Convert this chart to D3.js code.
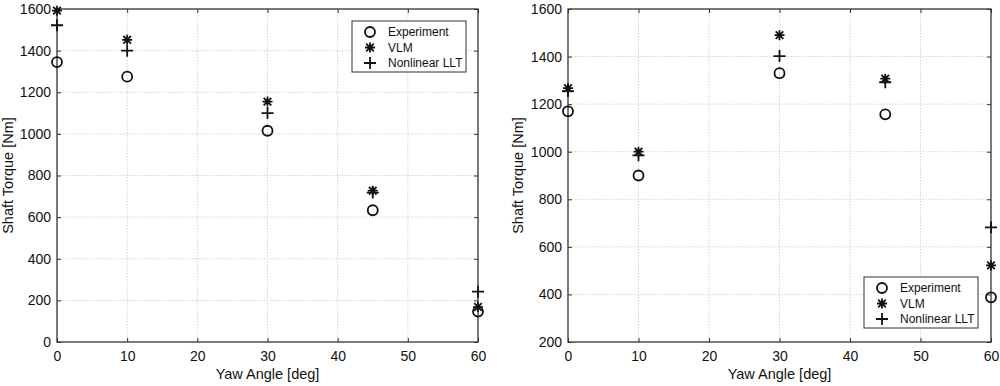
<!DOCTYPE html>
<html>
<head>
<meta charset="utf-8">
<script src="https://cdn.jsdelivr.net/npm/d3@7"></script>
<style>
  body { margin: 0; background: #fff; }
  svg { display: block; font-family: "Liberation Sans", Arial, sans-serif; }
  .grid line { stroke: #d4d4d4; stroke-width: 1; stroke-dasharray: 1.5 1.5; }
</style>
</head>
<body>
<svg id="chart" width="1000" height="386"></svg>
<script>
// Yaw angles (deg)
const yawAngles = [0, 10, 30, 45, 60];
const xTicks = [0, 10, 20, 30, 40, 50, 60];

// Left panel – shaft torque [Nm]
const leftExperiment = [1345, 1275, 1015, 633, 146];
const leftVLM = [1592, 1452, 1155, 727, 168];
const leftLLT = [1522, 1400, 1100, 718, 242];
const leftYTicks = [0, 200, 400, 600, 800, 1000, 1200, 1400, 1600];

// Right panel – shaft torque [Nm]
const rightExperiment = [1170, 900, 1330, 1157, 388];
const rightVLM = [1267, 1000, 1490, 1307, 522];
const rightLLT = [1255, 985, 1402, 1292, 682];
const rightYTicks = [200, 400, 600, 800, 1000, 1200, 1400, 1600];

const seriesNames = ["Experiment", "VLM", "Nonlinear LLT"];
const markers = ["circle", "star", "plus"];

const svg = d3.select("#chart");

function drawMarker(g, type, x, y) {
    if (type === "circle") {
        g.append("circle").attr("cx", x).attr("cy", y).attr("r", 5)
            .attr("fill", "none").attr("stroke", "#111").attr("stroke-width", 1.8);
    } else if (type === "plus") {
        const s = 6;
        g.append("path").attr("d", `M${x - s},${y}H${x + s}M${x},${y - s}V${y + s}`)
            .attr("stroke", "#111").attr("stroke-width", 1.8).attr("fill", "none");
    } else {
        const s = 5, d = 3.8;
        g.append("path")
            .attr("d", `M${x - s},${y}H${x + s}M${x},${y - s}V${y + s}` +
                `M${x - d},${y - d}L${x + d},${y + d}M${x - d},${y + d}L${x + d},${y - d}`)
            .attr("stroke", "#111").attr("stroke-width", 1.8).attr("fill", "none");
    }
}

function drawPanel(opts) {
    const {left, right, top, bottom, yDomain, yTicks, series, legend, labelX} = opts;
    const g = svg.append("g");

    const x = d3.scaleLinear().domain([0, 60]).range([left, right]);
    const y = d3.scaleLinear().domain(yDomain).range([bottom, top]);

    // Grid
    const grid = g.append("g").attr("class", "grid");
    grid.selectAll("line.v").data(xTicks.slice(1, -1)).join("line")
        .attr("x1", d => x(d)).attr("x2", d => x(d)).attr("y1", top).attr("y2", bottom);
    grid.selectAll("line.h").data(yTicks.slice(1, -1)).join("line")
        .attr("x1", left).attr("x2", right).attr("y1", d => y(d)).attr("y2", d => y(d));

    // Axes (MATLAB-style inward ticks)
    g.append("g").attr("transform", `translate(0,${bottom})`)
        .call(d3.axisBottom(x).tickValues(xTicks).tickSize(-4).tickPadding(9).tickFormat(d3.format("d")))
        .call(a => a.select(".domain").remove());
    g.append("g").attr("transform", `translate(${left},0)`)
        .call(d3.axisLeft(y).tickValues(yTicks).tickSize(-4).tickPadding(6).tickFormat(d3.format("d")))
        .call(a => a.select(".domain").remove());
    g.append("g").attr("transform", `translate(0,${top})`)
        .call(d3.axisTop(x).tickValues(xTicks).tickSize(-4).tickFormat(""))
        .call(a => a.select(".domain").remove());
    g.append("g").attr("transform", `translate(${right},0)`)
        .call(d3.axisRight(y).tickValues(yTicks).tickSize(-4).tickFormat(""))
        .call(a => a.select(".domain").remove());
    g.selectAll(".tick line").attr("stroke", "#333");
    g.selectAll(".tick text").attr("font-size", 14).attr("fill", "#111")
        .attr("font-family", "Liberation Sans, Arial, sans-serif");

    g.append("rect").attr("x", left).attr("y", top)
        .attr("width", right - left).attr("height", bottom - top)
        .attr("fill", "none").attr("stroke", "#333").attr("stroke-width", 1.3);

    // Data markers
    series.forEach((vals, si) => {
        vals.forEach((v, i) => drawMarker(g, markers[si], x(yawAngles[i]), y(v)));
    });

    // Axis labels
    g.append("text").attr("x", (left + right) / 2).attr("y", 379)
        .attr("text-anchor", "middle").attr("font-size", 14.5).attr("fill", "#111")
        .text("Yaw Angle [deg]");
    g.append("text").attr("transform", `translate(${labelX},${(top + bottom) / 2}) rotate(-90)`)
        .attr("text-anchor", "middle").attr("font-size", 14.5).attr("fill", "#111")
        .text("Shaft Torque [Nm]");

    // Legend
    const lg = g.append("g");
    lg.append("rect").attr("x", legend.x).attr("y", legend.y)
        .attr("width", legend.w).attr("height", legend.h)
        .attr("fill", "#fff").attr("stroke", "#333").attr("stroke-width", 1);
    seriesNames.forEach((name, i) => {
        const cy = legend.y + 11 + i * 15.5;
        drawMarker(lg, markers[i], legend.x + 18, cy);
        lg.append("text").attr("x", legend.x + 36).attr("y", cy + 4)
            .attr("font-size", 12).attr("fill", "#111").text(name);
    });
}

drawPanel({
    left: 57, right: 478, top: 9, bottom: 342,
    yDomain: [0, 1600], yTicks: leftYTicks,
    series: [leftExperiment, leftVLM, leftLLT],
    legend: {x: 352, y: 21, w: 114, h: 51},
    labelX: 13
});

drawPanel({
    left: 568, right: 991, top: 9, bottom: 342,
    yDomain: [200, 1600], yTicks: rightYTicks,
    series: [rightExperiment, rightVLM, rightLLT],
    legend: {x: 864, y: 277, w: 114, h: 51},
    labelX: 523
});
</script>
</body>
</html>
